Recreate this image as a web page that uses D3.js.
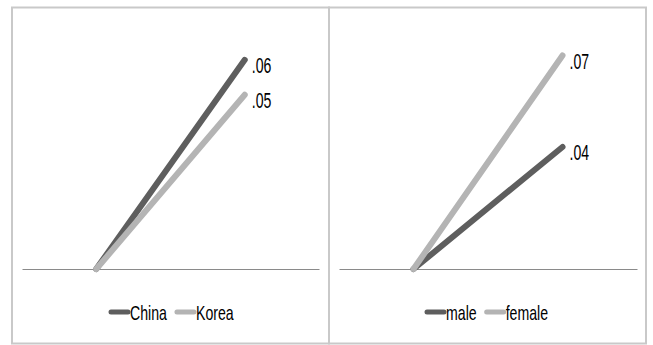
<!DOCTYPE html>
<html><head><meta charset="utf-8">
<script src="https://cdn.jsdelivr.net/npm/d3@7"></script>
<style>
html,body{margin:0;padding:0;background:#fff;}
text{font-family:"Liberation Sans Narrow","Liberation Sans",Arial,sans-serif;fill:#000;}
</style></head>
<body>
<svg id="chart" width="653" height="345"></svg>
<script>
// data
const categories = ["Low", "High"];
const leftSeries = ["China", "Korea"];
const chinaValues = [0, 0.06];
const koreaValues = [0, 0.05];
const rightSeries = ["male", "female"];
const maleValues = [0, 0.04];
const femaleValues = [0, 0.07];
const leftMax = 0.07;
const rightMax = 0.08;

const colors = {dark: "#5e5e5e", light: "#b4b4b4"};
const svg = d3.select("#chart");
const fmt = v => d3.format(".2f")(v).replace(/^0/, "");
const labelScale = 0.64, legendScale = 0.69;

function panel(opts) {
  const g = svg.append("g");
  g.append("rect").attr("x", opts.bx0).attr("y", 7.5)
    .attr("width", opts.bx1 - opts.bx0).attr("height", 336)
    .attr("fill", "none").attr("stroke", "#c9c9c9").attr("stroke-width", 2);

  const x = d3.scalePoint().domain(categories).range([opts.px0, opts.px1]).padding(0.5);
  const y = d3.scaleLinear().domain([0, opts.max]).range([269, 25]);

  const ax = g.append("g").attr("transform", `translate(0,${y(0)})`)
    .call(d3.axisBottom(x).tickSize(0).tickFormat(""));
  ax.select(".domain").attr("stroke", "#8a8a8a").attr("stroke-width", 1);

  const line = d3.line().x((d, i) => x(categories[i])).y(d => y(d));
  opts.series.forEach(s => {
    g.append("path").datum(s.values).attr("d", line)
      .attr("fill", "none").attr("stroke", s.color).attr("stroke-width", 6)
      .attr("stroke-linecap", "round").attr("stroke-linejoin", "round");
  });
  opts.series.forEach(s => {
    const last = s.values.length - 1;
    const lx = x(categories[last]) + 7, ly = y(s.values[last]) + 13;
    g.append("text").attr("transform", `translate(${lx},${ly}) scale(${labelScale},1)`)
      .attr("font-size", 22).text(fmt(s.values[last]));
  });
  let lx = opts.legendX;
  const ly = 312;
  opts.series.forEach(s => {
    g.append("line").attr("x1", lx + 2).attr("x2", lx + 19).attr("y1", ly).attr("y2", ly)
      .attr("stroke", s.color).attr("stroke-width", 5).attr("stroke-linecap", "round");
    const t = g.append("text").attr("transform", `translate(${lx + 21},${ly + 7.5}) scale(${legendScale},1)`)
      .attr("font-size", 20.5).text(s.name);
    const w = t.node().getComputedTextLength() * legendScale;
    lx += 21 + w + 8;
  });
}

panel({bx0: 12, bx1: 329, px0: 22, px1: 319, max: leftMax, legendX: 109,
  series: [
    {name: leftSeries[0], values: chinaValues, color: colors.dark},
    {name: leftSeries[1], values: koreaValues, color: colors.light}
  ]});
panel({bx0: 329, bx1: 646, px0: 339, px1: 637, max: rightMax, legendX: 425,
  series: [
    {name: rightSeries[0], values: maleValues, color: colors.dark},
    {name: rightSeries[1], values: femaleValues, color: colors.light}
  ]});
</script>
</body></html>
